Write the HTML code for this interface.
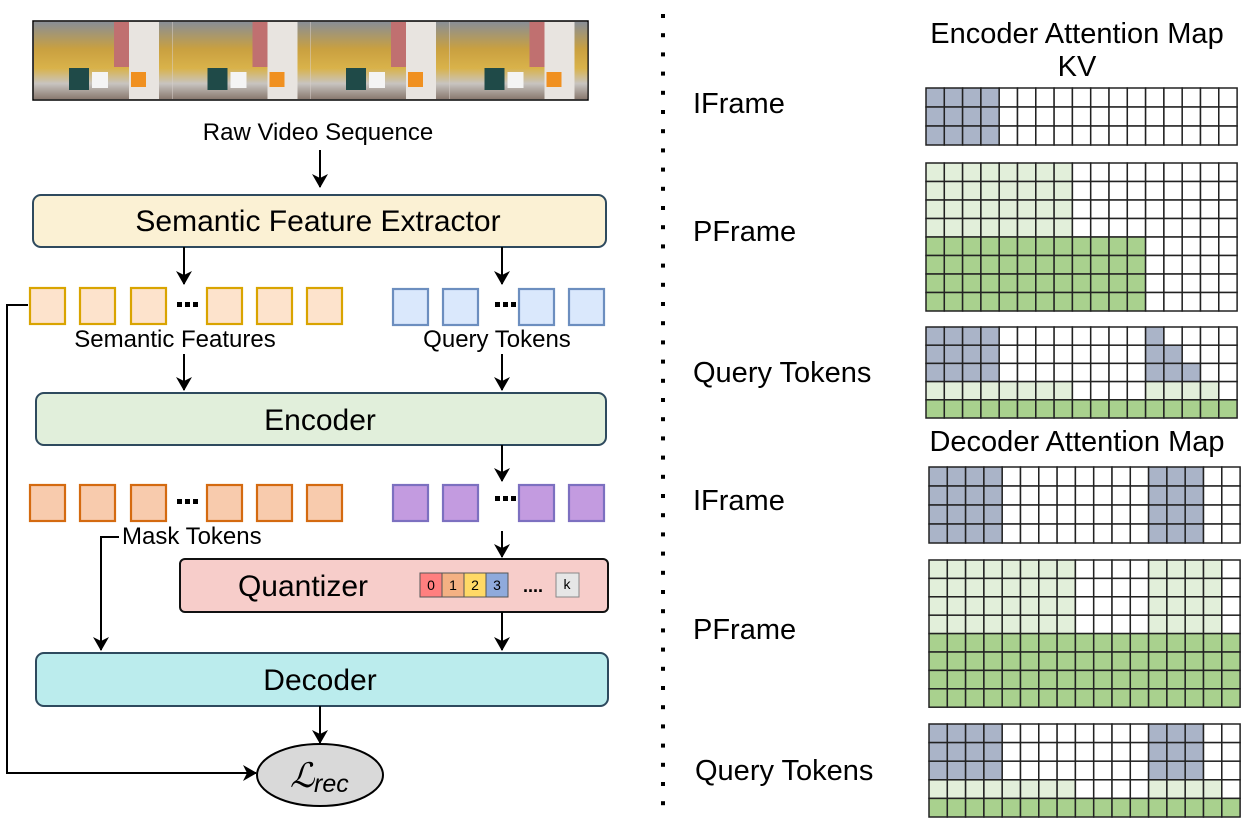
<!DOCTYPE html>
<html><head><meta charset="utf-8"><style>
body{margin:0;background:#fff;width:1246px;height:833px;overflow:hidden}
svg{display:block}
text{font-family:"Liberation Sans",Arial,sans-serif;fill:#000}
</style></head><body>
<svg id="s" width="1246" height="833" xmlns="http://www.w3.org/2000/svg">
<defs>
<marker id="ar" markerWidth="14" markerHeight="16" refX="13" refY="8" orient="auto" markerUnits="userSpaceOnUse"><path d="M0,0 L14,8 L0,16 L4,8 z" fill="#000"/></marker>
<linearGradient id="fr" x1="0" y1="0" x2="0" y2="1"><stop offset="0" stop-color="#8a8f96"/><stop offset="0.35" stop-color="#c9a040"/><stop offset="0.6" stop-color="#d9b24a"/><stop offset="0.8" stop-color="#c8c4c0"/><stop offset="1" stop-color="#8a7a70"/></linearGradient>
</defs>
<rect x="33" y="21" width="555" height="79" fill="#d8d0cc" stroke="#000" stroke-width="1.5"/>
<g id="frames"></g>
<text x="318" y="140" font-size="24" text-anchor="middle">Raw Video Sequence</text>
<line x1="320" y1="150" x2="320" y2="187" stroke="#000" stroke-width="2" marker-end="url(#ar)"/>
<rect x="33" y="195" width="573" height="52" rx="8" fill="#fbf1d4" stroke="#2e4a5e" stroke-width="2"/>
<text x="318" y="231" font-size="30" text-anchor="middle">Semantic Feature Extractor</text>
<line x1="184" y1="247" x2="184" y2="284" stroke="#000" stroke-width="2" marker-end="url(#ar)"/>
<line x1="502" y1="247" x2="502" y2="284" stroke="#000" stroke-width="2" marker-end="url(#ar)"/>
<g id="tok"></g>
<text x="175" y="347" font-size="24" text-anchor="middle">Semantic Features</text>
<text x="497" y="347" font-size="24" text-anchor="middle">Query Tokens</text>
<line x1="184" y1="354" x2="184" y2="390" stroke="#000" stroke-width="2" marker-end="url(#ar)"/>
<line x1="502" y1="354" x2="502" y2="390" stroke="#000" stroke-width="2" marker-end="url(#ar)"/>
<rect x="36" y="393" width="570" height="52" rx="8" fill="#e1efdb" stroke="#2e4a5e" stroke-width="2"/>
<text x="320" y="430" font-size="30" text-anchor="middle">Encoder</text>
<line x1="502" y1="445" x2="502" y2="481" stroke="#000" stroke-width="2" marker-end="url(#ar)"/>
<text x="122" y="544" font-size="24">Mask Tokens</text>
<polyline points="119,537 101,537 101,650" fill="none" stroke="#000" stroke-width="2" marker-end="url(#ar)"/>
<line x1="502" y1="531" x2="502" y2="557" stroke="#000" stroke-width="2" marker-end="url(#ar)"/>
<rect x="180" y="559" width="428" height="53" rx="5" fill="#f7cdca" stroke="#111" stroke-width="2"/>
<text x="303" y="596" font-size="30" text-anchor="middle">Quantizer</text>
<rect x="420" y="573" width="22" height="24" fill="#ff7f7f" stroke="#555"/><text x="431" y="590" font-size="14" text-anchor="middle">0</text>
<rect x="442" y="573" width="22" height="24" fill="#f4b183" stroke="#555"/><text x="453" y="590" font-size="14" text-anchor="middle">1</text>
<rect x="464" y="573" width="22" height="24" fill="#ffd966" stroke="#555"/><text x="475" y="590" font-size="14" text-anchor="middle">2</text>
<rect x="486" y="573" width="22" height="24" fill="#8faadc" stroke="#555"/><text x="497" y="590" font-size="14" text-anchor="middle">3</text>
<text x="533" y="592" font-size="18" font-weight="bold" text-anchor="middle">....</text>
<rect x="556" y="573" width="23" height="24" fill="#e6e6e6" stroke="#888"/><text x="567" y="589" font-size="14" text-anchor="middle">k</text>
<line x1="502" y1="612" x2="502" y2="650" stroke="#000" stroke-width="2" marker-end="url(#ar)"/>
<rect x="36" y="653" width="572" height="53" rx="8" fill="#bbeced" stroke="#2e4a5e" stroke-width="2"/>
<text x="320" y="690" font-size="30" text-anchor="middle">Decoder</text>
<line x1="320" y1="706" x2="320" y2="743" stroke="#000" stroke-width="2" marker-end="url(#ar)"/>
<ellipse cx="320" cy="775" rx="63" ry="31" fill="#d9d9d9" stroke="#000" stroke-width="2"/>
<text x="290" y="787" font-size="34" font-family="Liberation Serif" font-style="italic">ℒ</text>
<text x="314" y="792" font-size="25" font-family="Liberation Serif" font-style="italic">rec</text>
<polyline points="28,305 7,305 7,773 256,773" fill="none" stroke="#000" stroke-width="2" marker-end="url(#ar)"/>
<g id="dots"></g>
<text x="693" y="113" font-size="29">IFrame</text>
<text x="693" y="241" font-size="29">PFrame</text>
<text x="693" y="382" font-size="29">Query Tokens</text>
<text x="693" y="510" font-size="29">IFrame</text>
<text x="693" y="639" font-size="29">PFrame</text>
<text x="695" y="780" font-size="29">Query Tokens</text>
<text x="1077" y="43" font-size="29" text-anchor="middle">Encoder Attention Map</text>
<text x="1077" y="76" font-size="29" text-anchor="middle">KV</text>
<text x="1077" y="451" font-size="29" text-anchor="middle">Decoder Attention Map</text>
<g id="grids"></g>
</svg>
<script>
var NS="http://www.w3.org/2000/svg";
function R(g,x,y,w,h,f,s,sw){var r=document.createElementNS(NS,"rect");r.setAttribute("x",x);r.setAttribute("y",y);r.setAttribute("width",w);r.setAttribute("height",h);r.setAttribute("fill",f);if(s){r.setAttribute("stroke",s);r.setAttribute("stroke-width",sw||1.5);}g.appendChild(r);}
var fr=document.getElementById("frames");
for(var i=0;i<4;i++){var x=34+i*138.5;R(fr,x,22,138,77,"url(#fr)");R(fr,x+95,22,30,77,"#e8e4e0");R(fr,x+35,68,20,22,"#1f4a48");R(fr,x+58,72,16,16,"#f4f4f4");R(fr,x+97,72,15,15,"#f09020");R(fr,x+80,22,15,45,"#c07070");}
var tk=document.getElementById("tok");
function row(y,xs,f,s){xs.forEach(function(x){R(tk,x,y,35,36,f,s,2.2);});}
var L=[30,80,131,207,257,307],Q=[393,443,519,569];
row(288,L,"#fde3cc","#d9a400");row(289,Q,"#dae8fc","#6c8ebf");
row(485,L,"#f8cbad","#d46a10");row(485,Q,"#c39be0","#7c70c0");
function dots(y){[177,185,193].forEach(function(x){R(tk,x,y,5,5,"#000")});}
dots(302);dots(499);[495,503,511].forEach(function(x){R(tk,x,302,5,5,"#000");R(tk,x,496,5,5,"#000")});
var d=document.getElementById("dots");for(var y=14;y<805;y+=19.2)R(d,661,y,4,4,"#000");
var B="#aab4c8",LG="#e2efda",G="#a9d18e",W="#fff";
var g=document.getElementById("grids");
function grid(x0,y0,cw,rh,rows,fn){for(var r=0;r<rows;r++)for(var c=0;c<17;c++)R(g,x0+c*cw,y0+r*rh,cw,rh,fn(r,c),"#222",1.5);}
grid(926,88,18.3,19,3,function(r,c){return c<4?B:W});
grid(926,163,18.3,18.5,8,function(r,c){if(r<4)return c<8?LG:W;return c<12?G:W});
grid(926,327,18.3,18.2,5,function(r,c){if(r<3){if(c<4)return B;if(c==12||(c==13&&r>=1)||(c==14&&r==2))return B;return W}if(r==3)return (c<8||(c>=12&&c<=15))?LG:W;return G});
grid(929,467,18.3,19,4,function(r,c){return (c<4||(c>=12&&c<=14))?B:W});
grid(929,560,18.3,18.4,8,function(r,c){if(r<4)return (c<8||(c>=12&&c<=15))?LG:W;return G});
grid(929,724,18.3,18.6,5,function(r,c){if(r<3)return (c<4||(c>=12&&c<=14))?B:W;if(r==3)return (c<8||(c>=12&&c<=15))?LG:W;return G});
</script>
</body></html>
